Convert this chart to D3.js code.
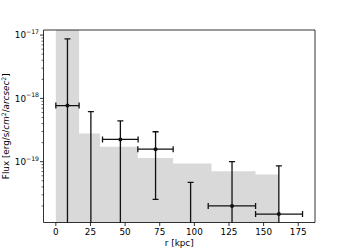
<!DOCTYPE html>
<html><head><meta charset="utf-8">
<script src="https://cdn.jsdelivr.net/npm/d3@7"></script>
<style>body{margin:0;background:#fff} svg{display:block} text{font-family:"DejaVu Sans",sans-serif;fill:#000}</style>
</head><body><svg id="c" width="350" height="250"></svg>
<script>
// ---- data ----
const binCenters = [8.4, 25.3, 46.6, 72.0, 97.3, 127.2, 161.0];
const binLow     = [0, 16.8, 33.7, 59.2, 84.7, 110.0, 144.2];
const binHigh    = [16.8, 33.7, 59.4, 84.7, 110.0, 144.2, 178.1];
const fluxValues = [7.7e-19, -1e-19, 2.25e-19, 1.58e-19, -2e-20, 2.0e-20, 1.49e-20];
const fluxUpper  = [8.7e-18, 6.2e-19, 4.4e-19, 2.97e-19, 4.7e-20, 1.0e-19, 8.6e-20];
const fluxLower  = [-7e-18, -8e-19, -1e-20, 2.55e-20, -1e-19, -6e-20, -6e-20];
const stepEdges  = [0, 16.8, 31.8, 59.2, 84.7, 112.4, 144.2, 161.0];
const stepFlux   = [1.5e-17, 2.8e-19, 1.72e-19, 1.14e-19, 9.4e-20, 7.1e-20, 6.3e-20];
const xTicks = [0, 25, 50, 75, 100, 125, 150, 175];
const yTickExp = [-17, -18, -19];
const xLabel = "r [kpc]";

// ---- layout ----
const L = 43.5, R = 315, T = 30, B = 222.5;
const svg = d3.select("#c");
const x = d3.scaleLinear().domain([-8.9, 187.1]).range([L, R]);
const yMin = Math.pow(10, -19.96), yMax = Math.pow(10, -16.92);
const y = d3.scaleLog().domain([yMin, yMax]).range([B, T]);
const yc = v => v > 0 ? y(v) : B + 10;

svg.append("defs").append("clipPath").attr("id", "clip")
  .append("rect").attr("x", L).attr("y", T).attr("width", R - L).attr("height", B - T);
const plot = svg.append("g").attr("clip-path", "url(#clip)");

// gray step histogram
const stepPts = stepFlux.map((f, i) => [stepEdges[i], f]);
stepPts.push([stepEdges[stepEdges.length - 1], stepFlux[stepFlux.length - 1]]);
plot.append("path")
  .attr("d", d3.area().curve(d3.curveStepAfter)
    .x(d => x(d[0])).y0(B + 10).y1(d => Math.max(T - 10, y(d[1])))(stepPts))
  .attr("fill", "#d9d9d9");

// error bars
const ec = "#111", ew = 1.3, cap = 3;
binCenters.forEach((c, i) => {
  const g = plot.append("g").attr("stroke", ec).attr("stroke-width", ew).attr("fill", "none");
  const cx = x(c);
  const yu = yc(fluxUpper[i]), yl = yc(fluxLower[i]);
  g.append("line").attr("x1", cx).attr("x2", cx).attr("y1", yu).attr("y2", yl);
  g.append("line").attr("x1", cx - cap).attr("x2", cx + cap).attr("y1", yu).attr("y2", yu);
  if (fluxLower[i] > 0)
    g.append("line").attr("x1", cx - cap).attr("x2", cx + cap).attr("y1", yl).attr("y2", yl);
  if (fluxValues[i] > 0) {
    const vy = y(fluxValues[i]);
    const x0 = x(binLow[i]), x1 = x(binHigh[i]);
    g.append("line").attr("x1", x0).attr("x2", x1).attr("y1", vy).attr("y2", vy);
    g.append("line").attr("x1", x0).attr("x2", x0).attr("y1", vy - cap).attr("y2", vy + cap);
    g.append("line").attr("x1", x1).attr("x2", x1).attr("y1", vy - cap).attr("y2", vy + cap);
    g.append("circle").attr("cx", cx).attr("cy", vy).attr("r", 2).attr("fill", ec).attr("stroke", "none");
  }
});

// spines
const sp = svg.append("g").attr("stroke", "#000").attr("stroke-width", 0.8).attr("fill", "none");
sp.append("line").attr("x1", L).attr("x2", L).attr("y1", T).attr("y2", B);
sp.append("line").attr("x1", L).attr("x2", R).attr("y1", B).attr("y2", B);
sp.append("line").attr("x1", L).attr("x2", R).attr("y1", T).attr("y2", T);
sp.append("line").attr("x1", R).attr("x2", R).attr("y1", T).attr("y2", B);

// x ticks
const fs = 8.8;
xTicks.forEach(t => {
  const px = x(t);
  svg.append("line").attr("x1", px).attr("x2", px).attr("y1", B).attr("y2", B + 3.5)
    .attr("stroke", "#000").attr("stroke-width", 0.8);
  svg.append("text").attr("x", px).attr("y", 234.5).attr("text-anchor", "middle")
    .attr("font-size", fs).text(t);
});
svg.append("text").attr("x", (L + R) / 2).attr("y", 245.5).attr("text-anchor", "middle")
  .attr("font-size", fs).text(xLabel);

// y ticks (major + minor)
yTickExp.forEach(e => {
  const py = y(Math.pow(10, e));
  svg.append("line").attr("x1", L - 3.5).attr("x2", L).attr("y1", py).attr("y2", py)
    .attr("stroke", "#000").attr("stroke-width", 0.8);
  const t = svg.append("text").attr("x", 39).attr("y", py + 3.3).attr("text-anchor", "end").attr("font-size", fs);
  t.append("tspan").text("10");
  t.append("tspan").attr("font-size", fs * 0.7).attr("dy", -4.2).text("\u2212" + Math.abs(e));
});
for (let e = -20; e <= -17; e++) {
  for (let m = 2; m <= 9; m++) {
    const v = m * Math.pow(10, e);
    if (v < yMin || v > yMax) continue;
    const py = y(v);
    svg.append("line").attr("x1", L - 2).attr("x2", L).attr("y1", py).attr("y2", py)
      .attr("stroke", "#000").attr("stroke-width", 0.6);
  }
}

// y label
const yl = svg.append("text").attr("transform", `translate(9,${(T + B) / 2}) rotate(-90)`)
  .attr("text-anchor", "middle").attr("font-size", fs);
yl.append("tspan").text("Flux [erg/s/");
yl.append("tspan").attr("font-style", "italic").text("cm");
yl.append("tspan").attr("font-size", fs * 0.7).attr("dy", -3.5).text("2");
yl.append("tspan").attr("dy", 3.5).text("/");
yl.append("tspan").attr("font-style", "italic").text("arcsec");
yl.append("tspan").attr("font-size", fs * 0.7).attr("dy", -3.5).text("2");
yl.append("tspan").attr("dy", 3.5).text("]");
</script></body></html>
